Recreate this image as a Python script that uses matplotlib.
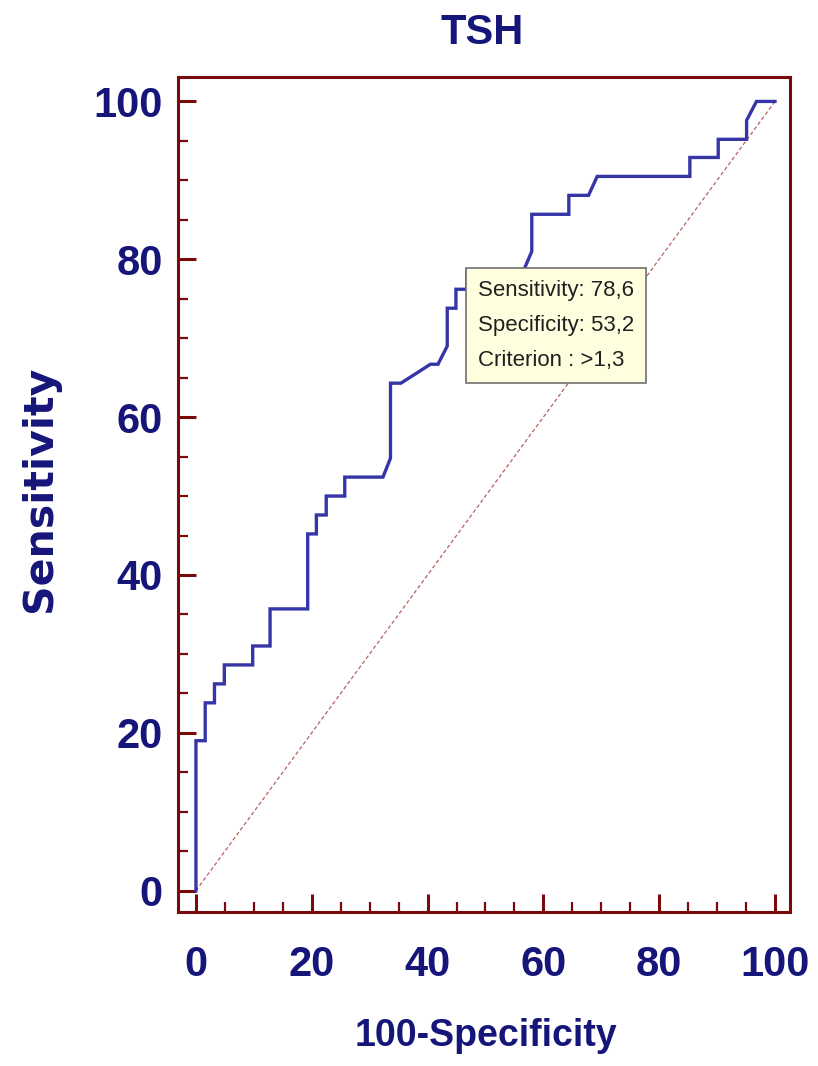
import matplotlib
matplotlib.use("Agg")
import matplotlib.pyplot as plt
from matplotlib.ticker import MultipleLocator

# ROC curve vertices (100-Specificity, Sensitivity), in percent
fpr = [0, 0, 1.6, 1.6, 3.2, 3.2, 4.9, 4.9, 9.8, 9.8, 12.8, 12.8, 19.3, 19.3,
       20.8, 20.8, 22.5, 22.5, 25.7, 25.7, 32.3, 33.6, 33.6, 35.4, 40.5, 41.8,
       43.4, 43.4, 44.9, 44.9, 46.8, 46.8, 56.6, 58.0, 58.0, 64.4, 64.4, 67.8,
       69.3, 85.3, 85.3, 90.2, 90.2, 95.1, 95.1, 96.8, 100]
sens = [0, 19.0, 19.0, 23.8, 23.8, 26.2, 26.2, 28.6, 28.6, 31.0, 31.0, 35.7,
        35.7, 45.2, 45.2, 47.6, 47.6, 50.0, 50.0, 52.4, 52.4, 54.8, 64.3, 64.3,
        66.7, 66.7, 69.0, 73.8, 73.8, 76.2, 76.2, 78.6, 78.6, 81.0, 85.7, 85.7,
        88.1, 88.1, 90.5, 90.5, 92.9, 92.9, 95.2, 95.2, 97.6, 100, 100]

# optimal cut-off point
opt_sens = 78.6
opt_spec = 53.2
opt_crit = ">1,3"

ticks = [0, 20, 40, 60, 80, 100]

NAVY = "#16167a"
FRAME = "#7a0a0a"
FONT = "Liberation Sans"

fig = plt.figure(figsize=(8.18, 10.66), dpi=100)
ax = fig.add_axes([0.2176, 0.1445, 0.7482, 0.7833])

ax.plot([0, 100], [0, 100], color="#b86060", lw=0.9, dashes=(3, 2))
ax.plot(fpr, sens, color="#3535a8", lw=2.4, solid_joinstyle="miter")

ax.set_xlim(-3.1, 102.6)
ax.set_ylim(-2.7, 103.1)
ax.set_xticks(ticks)
ax.set_yticks(ticks)
ax.xaxis.set_minor_locator(MultipleLocator(5))
ax.yaxis.set_minor_locator(MultipleLocator(5))

for s in ax.spines.values():
    s.set_color(FRAME)
    s.set_linewidth(2.2)

ax.tick_params(which="major", direction="in", length=13, width=2.2,
               color=FRAME, top=False, right=False)
ax.tick_params(which="minor", direction="in", length=7, width=1.6,
               color=FRAME, top=False, right=False)
ax.tick_params(axis="x", which="major", pad=24)
ax.tick_params(axis="y", which="major", pad=11)

for lab in ax.get_xticklabels() + ax.get_yticklabels():
    lab.set_family(FONT)
    lab.set_fontweight("bold")
    lab.set_fontsize(30)
    lab.set_color(NAVY)

fig.text(0.589, 0.969, "TSH", family=FONT, fontweight="bold", fontsize=30,
         color=NAVY, ha="center", va="center")
fig.text(0.594, 0.028, "100-Specificity", family=FONT,
         fontweight="bold", fontsize=27, color=NAVY, ha="center", va="center")
fig.text(0.049, 0.541, "Sensitivity", family="DejaVu Sans", fontweight="bold",
         fontsize=29.5, color=NAVY, ha="center", va="center", rotation=90)

# tooltip box anchored at its top-left corner on the cut-off point
tip = "Sensitivity: %s\nSpecificity: %s\nCriterion : %s" % (
    str(opt_sens).replace(".", ","), str(opt_spec).replace(".", ","), opt_crit)
ax.annotate(tip, xy=(100 - opt_spec, opt_sens), xytext=(11, -10),
            textcoords="offset pixels", ha="left", va="top",
            family=FONT, fontsize=16, color="#202020", linespacing=1.85,
            bbox=dict(boxstyle="square,pad=0.55", fc="#ffffe0", ec="#707070", lw=1.2),
            zorder=5)

fig.savefig("out.png", dpi=100)
